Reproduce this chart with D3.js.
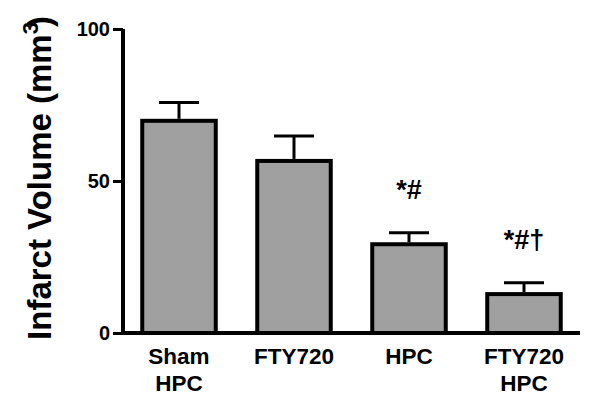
<!DOCTYPE html>
<html>
<head>
<meta charset="utf-8">
<script src="https://cdn.jsdelivr.net/npm/d3@7"></script>
<style>
  body { margin: 0; background: #fff; }
  text { font-family: "Liberation Sans", Arial, sans-serif; font-weight: bold; fill: #000; }
</style>
</head>
<body>
<div id="chart"></div>
<script>
var svgWidth = 600;
var svgHeight = 408;

// data
var groups = ["Sham HPC", "FTY720", "HPC", "FTY720 HPC"];
var groupLines = [["Sham", "HPC"], ["FTY720"], ["HPC"], ["FTY720", "HPC"]];
var means = [69.8, 56.6, 29.2, 12.8];
var errors = [6.0, 8.2, 3.8, 3.7];
var marks = ["", "", "*#", "*#\u2020"];
var yTicks = [0, 50, 100];

var svg = d3.select("#chart")
  .append("svg")
  .attr("width", svgWidth)
  .attr("height", svgHeight);

// scales
var xScale = d3.scaleBand()
  .domain(groups)
  .range([123, 580])
  .paddingInner(0.326)
  .paddingOuter(0.15);

var yScale = d3.scaleLinear()
  .domain([0, 100])
  .range([333, 29]);

// bars
svg.selectAll(".bar")
  .data(groups)
  .enter()
  .append("rect")
  .attr("class", "bar")
  .attr("x", function(d) { return xScale(d) + 2; })
  .attr("y", function(d, i) { return yScale(means[i]); })
  .attr("width", xScale.bandwidth() - 4)
  .attr("height", function(d, i) { return yScale(0) - yScale(means[i]); })
  .attr("fill", "#a0a0a0")
  .attr("stroke", "#000")
  .attr("stroke-width", 4);

// error bars (upper only)
var err = svg.selectAll(".err")
  .data(groups)
  .enter()
  .append("g")
  .attr("class", "err")
  .attr("stroke", "#000")
  .attr("stroke-width", 3);

err.append("line")
  .attr("x1", function(d) { return xScale(d) + xScale.bandwidth() / 2; })
  .attr("x2", function(d) { return xScale(d) + xScale.bandwidth() / 2; })
  .attr("y1", function(d, i) { return yScale(means[i]) - 2; })
  .attr("y2", function(d, i) { return yScale(means[i] + errors[i]); });

err.append("line")
  .attr("x1", function(d) { return xScale(d) + xScale.bandwidth() / 2 - 20; })
  .attr("x2", function(d) { return xScale(d) + xScale.bandwidth() / 2 + 20; })
  .attr("y1", function(d, i) { return yScale(means[i] + errors[i]); })
  .attr("y2", function(d, i) { return yScale(means[i] + errors[i]); });

// significance marks
svg.selectAll(".mark")
  .data(groups)
  .enter()
  .append("text")
  .attr("class", "mark")
  .attr("x", function(d) { return xScale(d) + xScale.bandwidth() / 2; })
  .attr("y", function(d, i) { return yScale(means[i] + errors[i]) - 34; })
  .attr("text-anchor", "middle")
  .style("font-size", "27px")
  .text(function(d, i) { return marks[i]; });

// y axis
var leftAxis = d3.axisLeft(yScale)
  .tickValues(yTicks)
  .tickSize(10)
  .tickPadding(3);

var yAxis = svg.append("g")
  .attr("transform", "translate(123,0)")
  .call(leftAxis);

yAxis.select(".domain")
  .attr("d", "M0," + yScale(100) + "V" + yScale(0))
  .attr("stroke", "#000")
  .attr("stroke-width", 4);
yAxis.selectAll(".tick line").attr("stroke-width", 3);
yAxis.selectAll(".tick text")
  .style("font-size", "20px")
  .style("font-family", "'Liberation Sans', Arial, sans-serif")
  .style("font-weight", "bold");

// x axis line
svg.append("line")
  .attr("x1", 121)
  .attr("x2", 580)
  .attr("y1", yScale(0))
  .attr("y2", yScale(0))
  .attr("stroke", "#000")
  .attr("stroke-width", 4);

// category labels
var cats = svg.selectAll(".cat")
  .data(groups)
  .enter()
  .append("text")
  .attr("class", "cat")
  .attr("text-anchor", "middle")
  .style("font-size", "22.5px");

cats.each(function(d, i) {
  var t = d3.select(this);
  groupLines[i].forEach(function(line, j) {
    t.append("tspan")
      .attr("x", xScale(d) + xScale.bandwidth() / 2)
      .attr("y", 364 + j * 27)
      .text(line);
  });
});

// y title
var title = svg.append("text")
  .attr("transform", "translate(51," + ((yScale(0) + yScale(100)) / 2 - 3) + ") rotate(-90)")
  .attr("text-anchor", "middle")
  .style("font-size", "33px");
title.append("tspan").text("Infarct Volume (mm");
title.append("tspan").attr("dy", -13).style("font-size", "22px").text("3");
title.append("tspan").attr("dy", 13).attr("dx", -5).text(")");
</script>
</body>
</html>
